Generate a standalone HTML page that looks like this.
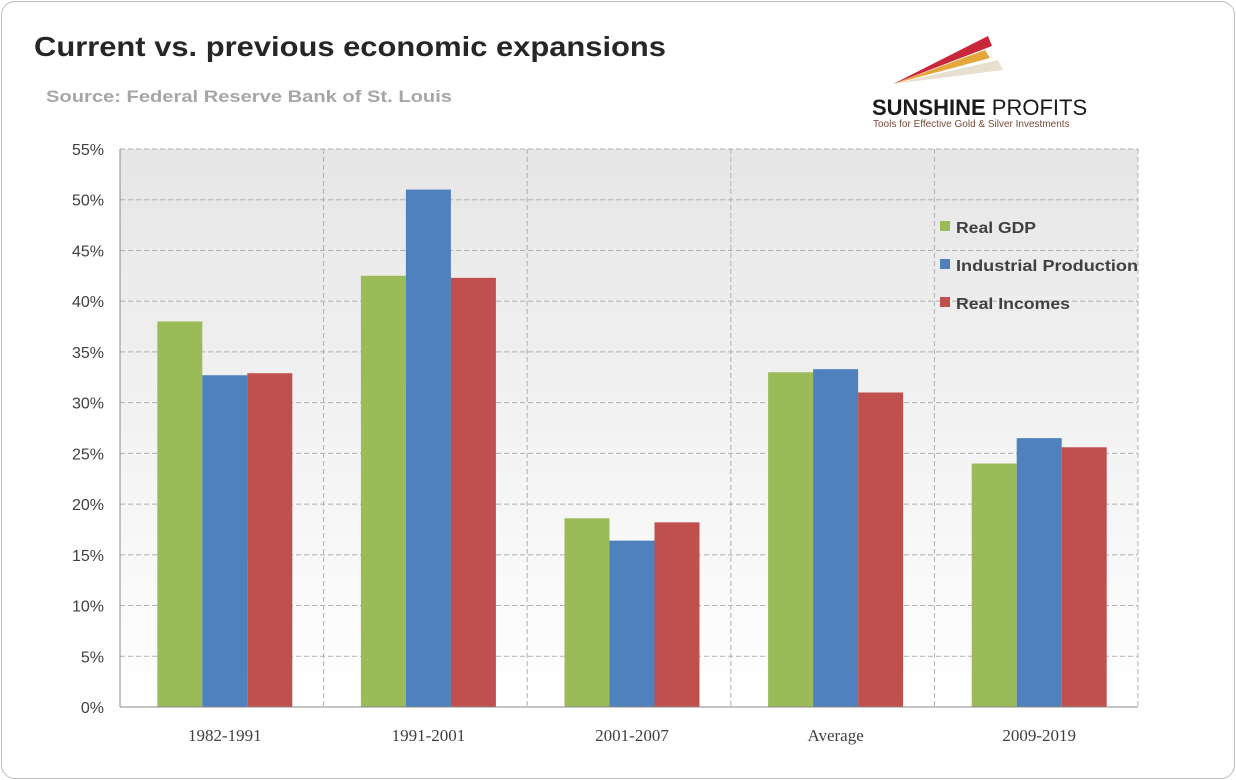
<!DOCTYPE html>
<html><head><meta charset="utf-8"><style>
body{margin:0;width:1236px;height:780px;background:#fff;font-family:"Liberation Sans",sans-serif;overflow:hidden}
.frame{position:absolute;left:1px;top:1px;width:1232px;height:776px;border:1px solid #bdbdbd;border-radius:14px;background:#fff}
</style></head><body>
<div class="frame"></div>
<svg width="1236" height="780" style="position:absolute;left:0;top:0">
<defs><linearGradient id="bg" x1="0" y1="0" x2="0" y2="1"><stop offset="0" stop-color="#e6e6e6"/><stop offset="1" stop-color="#ffffff"/></linearGradient></defs>
<text x="34" y="56" font-size="28" font-weight="bold" fill="#262626" textLength="632" lengthAdjust="spacingAndGlyphs">Current vs. previous economic expansions</text>
<text x="46" y="102" font-size="17" font-weight="bold" fill="#a6a6a6" textLength="406" lengthAdjust="spacingAndGlyphs">Source: Federal Reserve Bank of St. Louis</text>
<g>
<polygon points="893,84 988,36 992,46" fill="#c8283a"/>
<polygon points="893,84 985,50 990,58" fill="#e5a63a"/>
<polygon points="893,84 998,60 1003,70" fill="#e8e0cf"/>
<text x="872" y="115" font-size="22" font-weight="bold" fill="#1a1a1a">SUNSHINE <tspan font-weight="normal">PROFITS</tspan></text>
<text x="873" y="127" font-size="10" fill="#7a4a3a">Tools for Effective Gold &amp; Silver Investments</text>
</g>
<rect x="120" y="149" width="1018" height="558" fill="url(#bg)"/>
<g id="grid"></g><g id="bars"></g><g id="axes"></g>
<g font-size="16" font-weight="bold" fill="#404040">
<g><rect x="940" y="221" width="10" height="10" fill="#9bbb59"/><text x="956" y="233" textLength="80" lengthAdjust="spacingAndGlyphs">Real GDP</text></g>
<g><rect x="940" y="259" width="10" height="10" fill="#4f81bd"/><text x="956" y="271" textLength="182" lengthAdjust="spacingAndGlyphs">Industrial Production</text></g>
<g><rect x="940" y="297" width="10" height="10" fill="#c0504d"/><text x="956" y="309" textLength="114" lengthAdjust="spacingAndGlyphs">Real Incomes</text></g>
</g>
</svg>
<script>
const categories=["1982-1991","1991-2001","2001-2007","Average","2009-2019"];
const realGDP=[38.0,42.5,18.6,33.0,24.0];
const industrial=[32.7,51.0,16.4,33.3,26.5];
const incomes=[32.9,42.3,18.2,31.0,25.6];
const yTicks=[0,5,10,15,20,25,30,35,40,45,50,55];
const colors=["#9bbb59","#4f81bd","#c0504d"];
const NS="http://www.w3.org/2000/svg";
const X0=120,X1=1138,Y0=707,Y1=149;
const y=v=>Y0-(v/55)*(Y0-Y1);
const gw=(X1-X0)/categories.length;
const x=i=>X0+i*gw;
function mk(t,a,p){const e=document.createElementNS(NS,t);for(const k in a)e.setAttribute(k,a[k]);p.appendChild(e);return e;}
const grid=document.getElementById('grid'),bars=document.getElementById('bars'),axes=document.getElementById('axes');
yTicks.forEach(t=>{
 if(t>0){const l=mk('line',{x1:X0,x2:X1,y1:y(t),y2:y(t),stroke:'#b0b0b0','stroke-dasharray':'5,3'},grid);
 
 }
 const tx=mk('text',{x:104,y:y(t)+6,'text-anchor':'end','font-size':16,fill:'#404040'},axes);
 tx.textContent=t+'%';
 
 
});
for(let i=1;i<=categories.length;i++){const l=mk('line',{x1:x(i),x2:x(i),y1:Y1,y2:Y0,stroke:'#b0b0b0','stroke-dasharray':'5,3'},grid);
 
 }
mk('line',{x1:X0,x2:X0,y1:Y1,y2:Y0,stroke:'#888'},axes);
mk('line',{x1:X0,x2:X1,y1:Y0,y2:Y0,stroke:'#888'},axes);
const series=[realGDP,industrial,incomes];
const bw=45;
categories.forEach((c,i)=>{
 const start=x(i)+gw/2-bw*1.5+3;
 series.forEach((s,j)=>{
  const r=mk('rect',{x:start+j*bw,y:y(s[i]),width:bw,height:Y0-y(s[i]),fill:colors[j]},bars);
  
  
 });
 const tx=mk('text',{x:x(i)+gw/2+3,y:741,'text-anchor':'middle','font-size':17,fill:'#404040','font-family':'Liberation Serif, serif'},axes);
 tx.textContent=c;
 
 
});
</script>
</body></html>
